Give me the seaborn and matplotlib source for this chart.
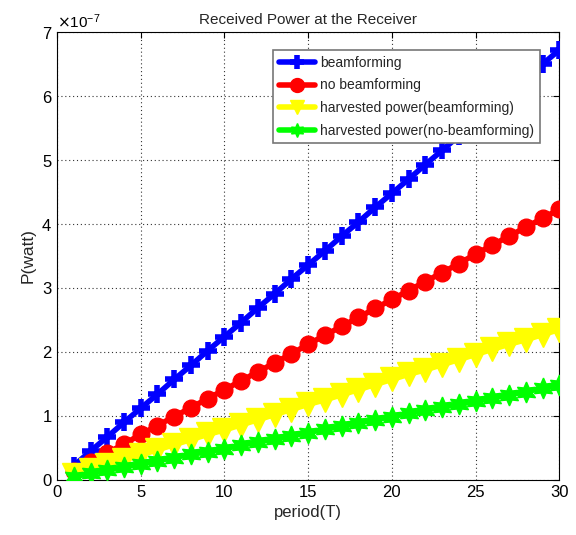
"""Received power vs. period, recreated with seaborn."""

import matplotlib

matplotlib.use("Agg")
import matplotlib.pyplot as plt
import numpy as np
import pandas as pd
import seaborn as sns


# values in units of 1e-7 W (one point per period 1..30)
period = list(range(1, 31))
beamforming = [0.22, 0.45, 0.67, 0.90, 1.12, 1.34, 1.57, 1.79, 2.02, 2.24,
               2.46, 2.69, 2.91, 3.14, 3.36, 3.58, 3.81, 4.03, 4.26, 4.48,
               4.70, 4.93, 5.15, 5.38, 5.60, 5.82, 6.05, 6.27, 6.50, 6.72]
no_beamforming = [0.14, 0.28, 0.42, 0.56, 0.71, 0.85, 0.99, 1.13, 1.27, 1.41,
                  1.55, 1.69, 1.83, 1.97, 2.12, 2.26, 2.40, 2.54, 2.68, 2.82,
                  2.96, 3.10, 3.24, 3.38, 3.53, 3.67, 3.81, 3.95, 4.09, 4.23]
harvested_bf = [0.08, 0.16, 0.24, 0.31, 0.39, 0.47, 0.55, 0.63, 0.71, 0.78,
                0.86, 0.94, 1.02, 1.10, 1.18, 1.25, 1.33, 1.41, 1.49, 1.57,
                1.65, 1.72, 1.80, 1.88, 1.96, 2.04, 2.12, 2.19, 2.27, 2.35]
harvested_nobf = [0.05, 0.10, 0.15, 0.20, 0.25, 0.30, 0.35, 0.40, 0.44, 0.49,
                  0.54, 0.59, 0.64, 0.69, 0.74, 0.79, 0.84, 0.89, 0.94, 0.99,
                  1.04, 1.09, 1.14, 1.18, 1.23, 1.28, 1.33, 1.38, 1.43, 1.48]
SCALE = 1e-7

series_names = [
    "beamforming",
    "no beamforming",
    "harvested power(beamforming)",
    "harvested power(no-beamforming)",
]
series_values = [beamforming, no_beamforming, harvested_bf, harvested_nobf]

STYLES = {
    "beamforming": dict(color="#0000ff", marker="+", markersize=13, mew=4),
    "no beamforming": dict(color="#ff0000", marker="o", markersize=12, mew=1),
    "harvested power(beamforming)": dict(color="#ffff00", marker="v", markersize=17, mew=1),
    "harvested power(no-beamforming)": dict(color="#00ff00", marker=(6, 1, 0), markersize=15, mew=1),
}

df = pd.concat(
    [pd.DataFrame({"period": period, "power": np.array(v) * SCALE, "series": n})
     for n, v in zip(series_names, series_values)],
    ignore_index=True,
)

sns.set_style("white")
plt.rcParams["font.family"] = ["Liberation Sans", "DejaVu Sans"]
plt.rcParams["xtick.direction"] = "in"
plt.rcParams["ytick.direction"] = "in"

fig = plt.figure(figsize=(5.76, 5.35), dpi=100)
ax = fig.add_axes([0.099, 0.103, 0.872, 0.837])

for name in series_names:
    st = STYLES[name]
    sns.lineplot(
        data=df[df["series"] == name], x="period", y="power", ax=ax,
        color=st["color"], marker=st["marker"], markersize=st["markersize"],
        markeredgecolor=st["color"], markerfacecolor=st["color"],
        markeredgewidth=st["mew"], linewidth=4, label=name, zorder=3,
    )

ax.set_xlim(0, 30)
ax.set_ylim(0, 7e-7)
ax.set_xticks(range(0, 31, 5))
ax.set_yticks(np.arange(0, 8) * SCALE)
ax.ticklabel_format(axis="y", style="sci", scilimits=(0, 0), useMathText=True)
ax.yaxis.get_offset_text().set_fontsize(11)
ax.tick_params(labelsize=12, length=4, width=0.8, colors="black", top=True, right=True)
ax.grid(True, linestyle=(0, (1, 2.5)), color="#333333", linewidth=0.8)

for spine in ax.spines.values():
    spine.set_color("black")
    spine.set_linewidth(0.8)

ax.set_title("Received Power at the Receiver", fontsize=11)
ax.set_xlabel("period(T)", fontsize=12)
ax.set_ylabel("P(watt)", fontsize=12.5)

leg = ax.legend(
    loc="upper right", bbox_to_anchor=(0.975, 0.975), fontsize=10,
    frameon=True, fancybox=False, edgecolor="#777777", framealpha=1,
    handlelength=2.6, borderpad=0.4, labelspacing=0.62, handletextpad=0.4,
)
leg.get_frame().set_linewidth(1.2)
for h in leg.legend_handles:
    h.set_markersize(10)

fig.savefig("out.png", dpi=100)
